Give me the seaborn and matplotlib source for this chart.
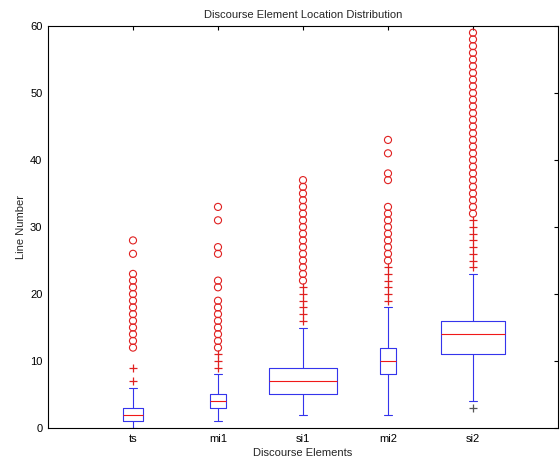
import numpy as np
import pandas as pd
import matplotlib
matplotlib.use("Agg")
import matplotlib.pyplot as plt
import seaborn as sns

# box summary per discourse element
elements = ["ts", "mi1", "si1", "mi2", "si2"]
q1 = [1, 3, 5, 8, 11]
median = [2, 4, 7, 10, 14]
q3 = [3, 5, 9, 12, 16]
whisker_lo = [0, 1, 2, 2, 4]
whisker_hi = [6, 8, 15, 18, 23]
box_widths = [0.24, 0.185, 0.8, 0.19, 0.76]

# outliers: '+' = mild, 'o' = extreme
mild_out = {
    "ts": [7, 9],
    "mi1": [9, 10, 11],
    "si1": [16, 17, 18, 19, 20, 21],
    "mi2": [19, 20, 21, 22, 23, 24],
    "si2": [24, 25, 26, 27, 28, 29, 30, 31],
}
low_out = {"si2": [3]}
extreme_out = {
    "ts": [12, 13, 14, 15, 16, 17, 18, 19, 20, 21, 22, 23, 26, 28],
    "mi1": [12, 13, 14, 15, 16, 17, 18, 19, 21, 22, 26, 27, 31, 33],
    "si1": [22, 23, 24, 25, 26, 27, 28, 29, 30, 31, 32, 33, 34, 35, 36, 37],
    "mi2": [25, 26, 27, 28, 29, 30, 31, 32, 33, 37, 38, 41, 43],
    "si2": [32, 33, 34, 35, 36, 37, 38, 39, 40, 41, 42, 43, 44, 45, 46,
            47, 48, 49, 50, 51, 52, 53, 54, 55, 56, 57, 58, 59],
}

sns.set_style("white")
plt.rcParams["font.family"] = ["Liberation Sans", "DejaVu Sans"]

fig = plt.figure(figsize=(5.6, 4.63), dpi=100)
ax = fig.add_axes([0.0857, 0.0756, 0.9107, 0.8682])

pos = np.arange(1, len(elements) + 1)
stats = []
for i, name in enumerate(elements):
    stats.append({"label": name, "q1": q1[i], "med": median[i], "q3": q3[i],
                  "whislo": whisker_lo[i], "whishi": whisker_hi[i], "fliers": []})

ax.bxp(stats, positions=pos, widths=box_widths, capwidths=0.1, showfliers=False,
       boxprops=dict(color="#3434ec", lw=0.8),
       whiskerprops=dict(color="#3434ec", lw=0.8),
       capprops=dict(color="#3434ec", lw=0.8),
       medianprops=dict(color="#f01818", lw=0.8))

def to_frame(d):
    rows = []
    for name, vals in d.items():
        for v in vals:
            rows.append((pos[elements.index(name)], v))
    return pd.DataFrame(rows, columns=["x", "y"])

sns.scatterplot(data=to_frame(extreme_out), x="x", y="y", ax=ax, marker="o",
                s=26, fc="none", ec="#e02020", linewidth=0.8, legend=False)
sns.scatterplot(data=to_frame(mild_out), x="x", y="y", ax=ax, marker="+",
                s=30, color="#e02020", linewidth=0.9, legend=False)
sns.scatterplot(data=to_frame(low_out), x="x", y="y", ax=ax, marker="+",
                s=30, color="#555555", linewidth=0.9, legend=False)

ax.set_xlim(0, 6)
ax.set_ylim(0, 60)
ax.set_xticks(pos)
ax.set_xticklabels(elements)
ax.set_yticks(np.arange(0, 61, 10))
ax.tick_params(direction="in", top=True, right=True, length=3, labelsize=8,
               colors="black", pad=4)
for s in ax.spines.values():
    s.set_color("black")
    s.set_linewidth(0.8)

ax.set_title("Discourse Element Location Distribution", fontsize=8, pad=6)
ax.set_xlabel("Discourse Elements", fontsize=8, labelpad=3)
ax.set_ylabel("Line Number", fontsize=8, labelpad=3)

fig.savefig("out.png", dpi=100)
